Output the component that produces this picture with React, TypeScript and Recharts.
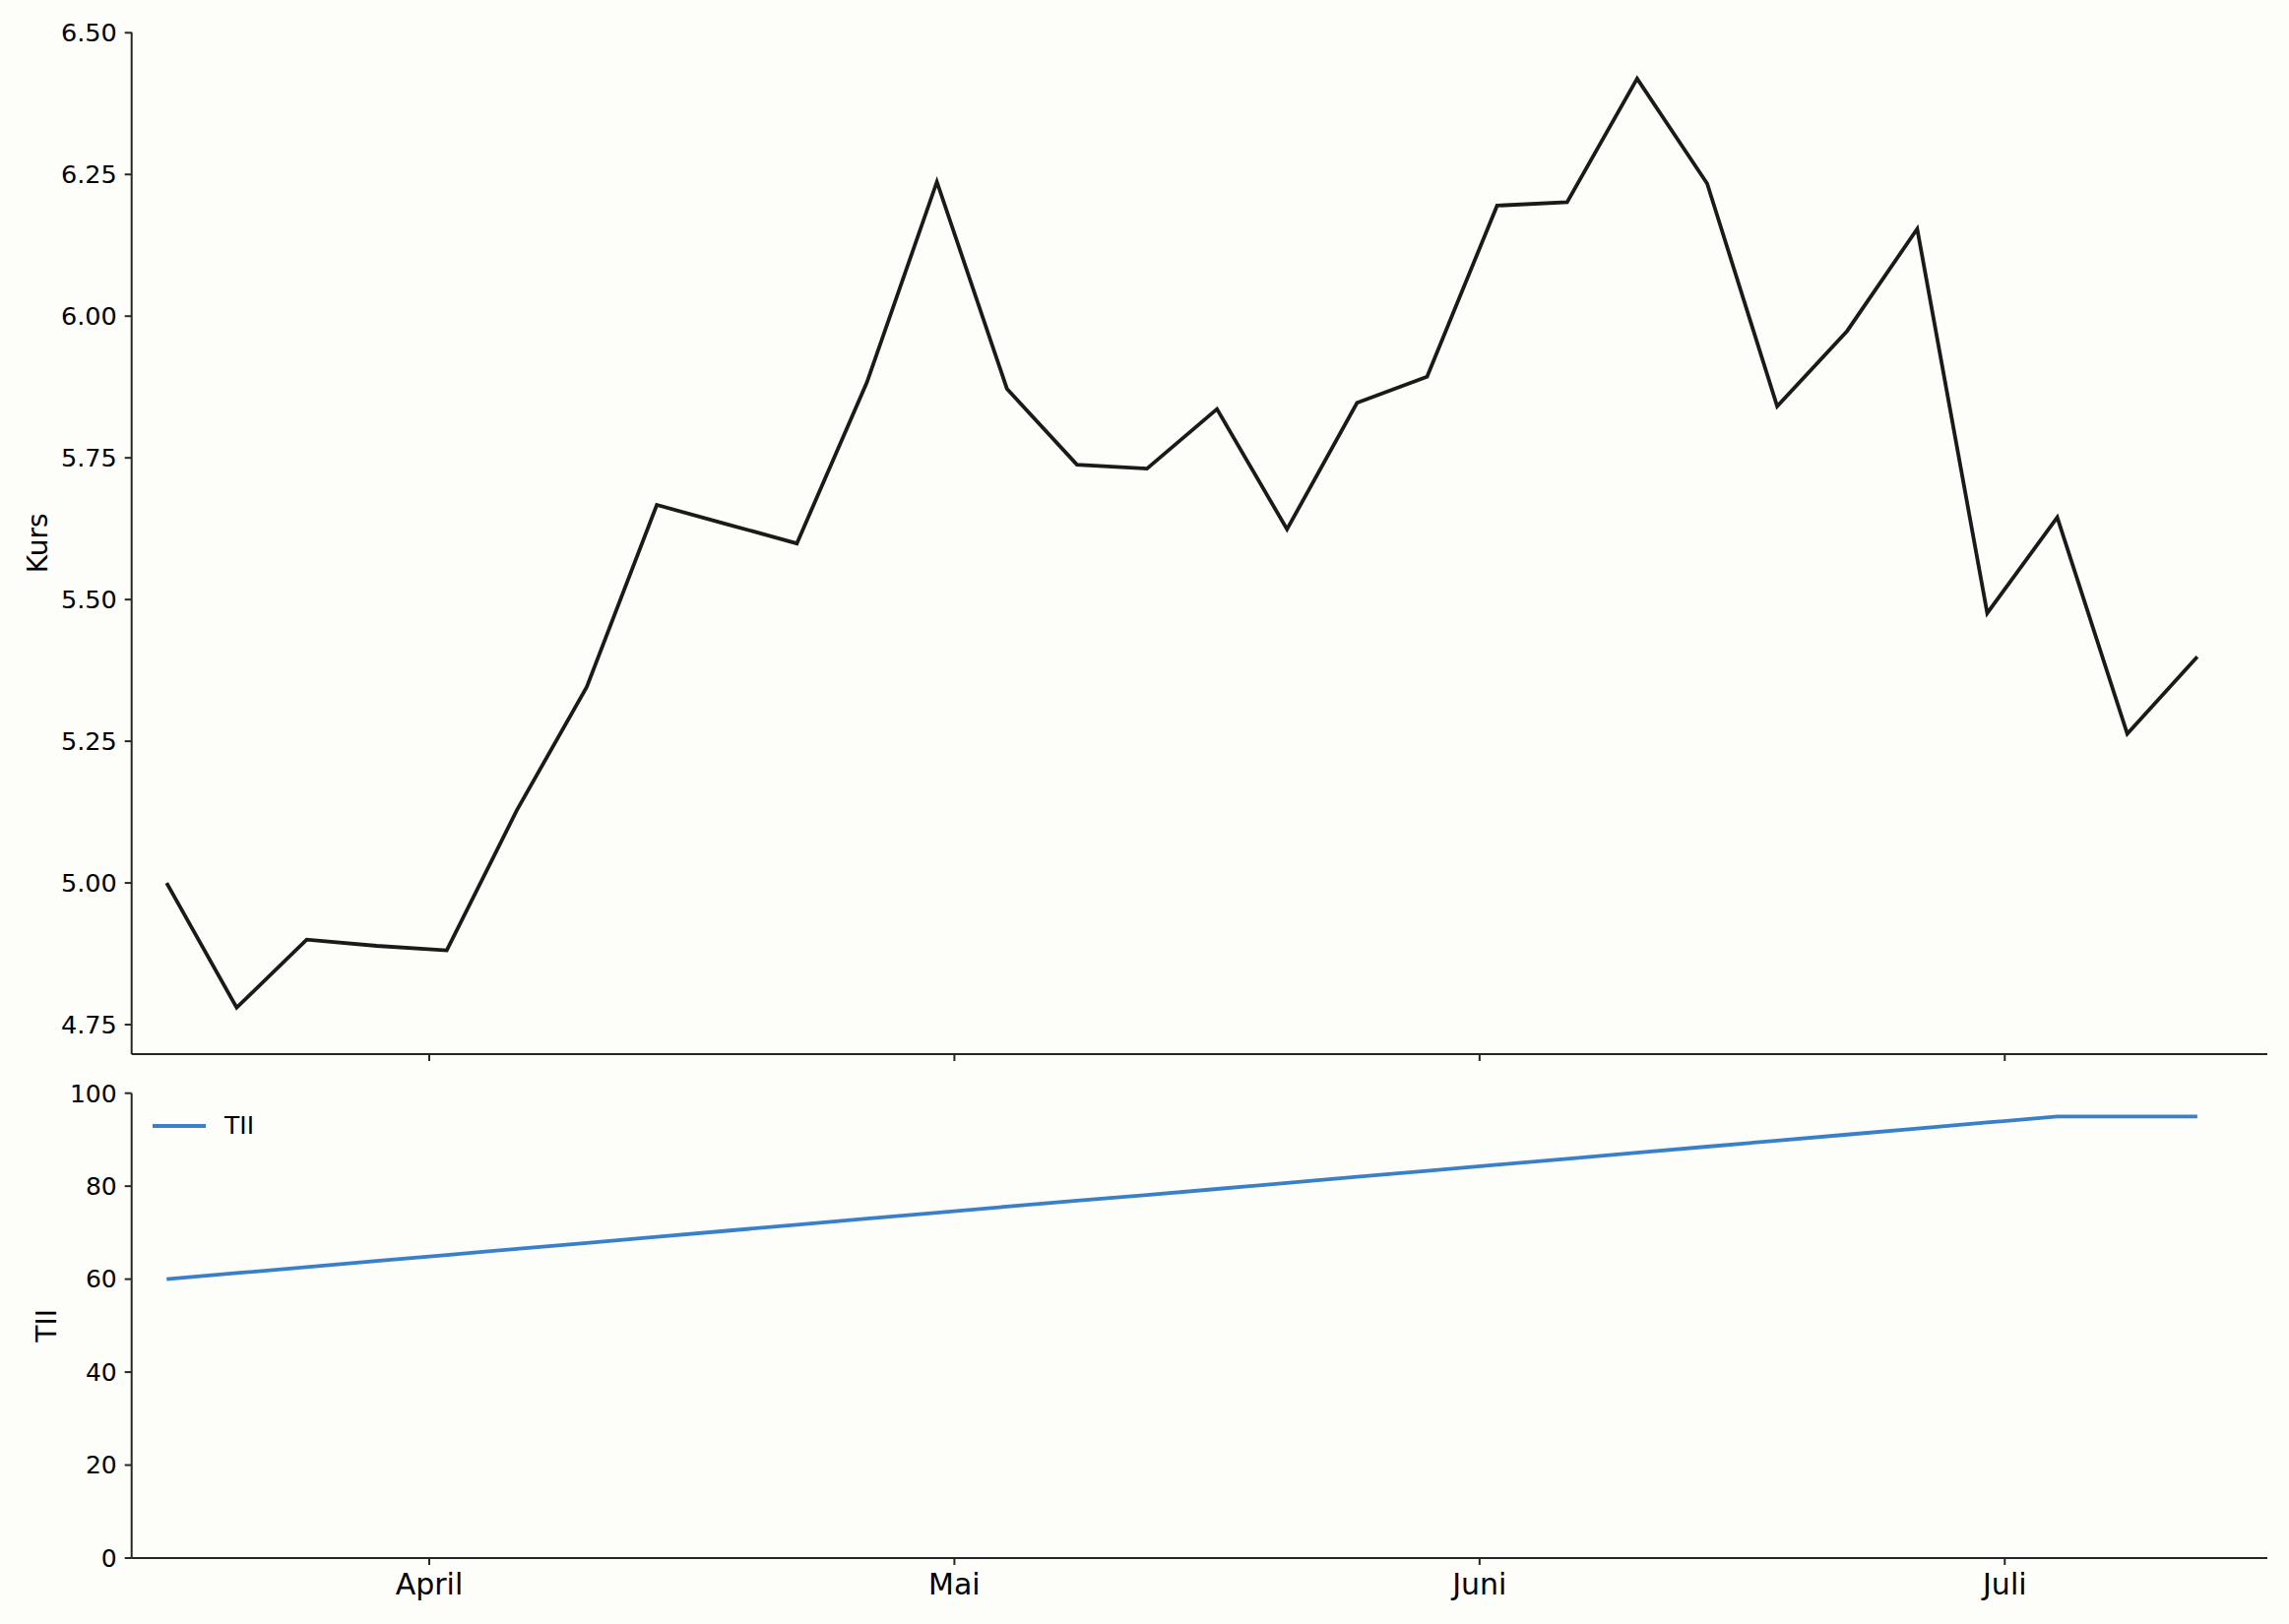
import { FC } from "react";
import { LineChart, Line, XAxis, YAxis, Legend, Label } from "recharts";

// x positions in days since the first observation (one point every 4 days)
const dayOffsets = [
  0, 4, 8, 12, 16, 20, 24, 28, 32, 36, 40, 44, 48, 52, 56, 60, 64, 68, 72, 76,
  80, 84, 88, 92, 96, 100, 104, 108, 112, 116,
];

const kursValues = [
  5.0, 4.78, 4.9, 4.889, 4.881, 5.128, 5.346, 5.667, 5.633, 5.599, 5.883,
  6.237, 5.872, 5.738, 5.731, 5.836, 5.624, 5.847, 5.893, 6.195, 6.201, 6.419,
  6.234, 5.841, 5.974, 6.154, 5.476, 5.645, 5.263, 5.399,
];

const tiiValues = [
  60, 61.3, 62.6, 63.9, 65.2, 66.5, 67.8, 69.1, 70.4, 71.7, 73.0, 74.3, 75.6,
  76.9, 78.1, 79.4, 80.7, 82.0, 83.3, 84.6, 85.9, 87.2, 88.5, 89.8, 91.1, 92.4,
  93.7, 95, 95, 95,
];

const monthTicks = [15, 45, 75, 105];
const monthLabels = ["April", "Mai", "Juni", "Juli"];
const kursTicks = [4.75, 5.0, 5.25, 5.5, 5.75, 6.0, 6.25, 6.5];
const tiiTicks = [0, 20, 40, 60, 80, 100];

const data = dayOffsets.map((day, i) => ({
  day,
  kurs: kursValues[i],
  tii: tiiValues[i],
}));

const FONT = "'DejaVu Sans', sans-serif";
const AXIS = "#262626";
const KURS_COLOR = "#1a1a1a";
const TII_COLOR = "#3a80c8";
const X_DOMAIN: [number, number] = [-2, 120];

const monthLabel = (v: number) => {
  const idx = monthTicks.indexOf(v);
  return idx >= 0 ? monthLabels[idx] : "";
};

const axisLabel =
  (text: string, baselineX: number) =>
  (props: any) => {
    const vb = props.viewBox || {};
    const cy = (vb.y ?? 0) + (vb.height ?? 0) / 2;
    return (
      <text
        x={baselineX}
        y={cy}
        transform={`rotate(-90, ${baselineX}, ${cy})`}
        textAnchor="middle"
        fontSize={28}
        fontFamily={FONT}
        fill="#000"
      >
        {text}
      </text>
    );
  };

const LegendContent = (props: any) => {
  const item = props.payload?.[0];
  if (!item) return null;
  return (
    <div style={{ display: "flex", alignItems: "center", height: 30 }}>
      <svg width={54} height={30}>
        <line x1={0} y1={15} x2={54} y2={15} stroke={item.color} strokeWidth={4} />
      </svg>
      <span
        style={{
          marginLeft: 19,
          fontSize: 25,
          lineHeight: "30px",
          fontFamily: FONT,
          color: "#000",
        }}
      >
        {item.value}
      </span>
    </div>
  );
};

const App: FC = () => {
  return (
    <div
      style={{
        position: "absolute",
        left: 0,
        top: 0,
        width: 2325,
        height: 1650,
        background: "#fdfdf9",
        fontFamily: FONT,
        overflow: "hidden",
      }}
    >
      <div style={{ position: "absolute", left: 0, top: 0 }}>
        <LineChart
          width={2325}
          height={1080}
          data={data}
          margin={{ top: 32.7, right: 22, left: 0, bottom: 0 }}
        >
          <XAxis
            dataKey="day"
            type="number"
            domain={X_DOMAIN}
            ticks={monthTicks}
            tickFormatter={() => ""}
            height={9}
            tickSize={7}
            axisLine={{ stroke: AXIS, strokeWidth: 2 }}
            tickLine={{ stroke: AXIS, strokeWidth: 2 }}
            allowDataOverflow
          />
          <YAxis
            width={133.7}
            type="number"
            domain={[4.698, 6.501]}
            ticks={kursTicks}
            allowDataOverflow
            tickFormatter={(v: number) => v.toFixed(2)}
            tick={{ fill: "#000", fontSize: 25.5, fontFamily: FONT }}
            tickSize={7}
            tickMargin={8}
            axisLine={{ stroke: AXIS, strokeWidth: 2 }}
            tickLine={{ stroke: AXIS, strokeWidth: 2 }}
          >
            <Label content={axisLabel("Kurs", 48)} />
          </YAxis>
          <Line
            type="linear"
            dataKey="kurs"
            name="Kurs"
            stroke={KURS_COLOR}
            strokeWidth={3.8}
            dot={false}
            activeDot={false}
            isAnimationActive={false}
          />
        </LineChart>
      </div>

      <div style={{ position: "absolute", left: 0, top: 1080 }}>
        <LineChart
          width={2325}
          height={570}
          data={data}
          margin={{ top: 30.7, right: 22, left: 0, bottom: 0 }}
        >
          <XAxis
            dataKey="day"
            type="number"
            domain={X_DOMAIN}
            ticks={monthTicks}
            tickFormatter={monthLabel}
            height={67}
            tickSize={7}
            tickMargin={9}
            tick={{ fill: "#000", fontSize: 30, fontFamily: FONT }}
            axisLine={{ stroke: AXIS, strokeWidth: 2 }}
            tickLine={{ stroke: AXIS, strokeWidth: 2 }}
            allowDataOverflow
          />
          <YAxis
            width={133.7}
            type="number"
            domain={[0, 100]}
            ticks={tiiTicks}
            tick={{ fill: "#000", fontSize: 25, fontFamily: FONT }}
            tickSize={7}
            tickMargin={8}
            axisLine={{ stroke: AXIS, strokeWidth: 2 }}
            tickLine={{ stroke: AXIS, strokeWidth: 2 }}
          >
            <Label content={axisLabel("TII", 57)} />
          </YAxis>
          <Legend
            layout="vertical"
            align="center"
            verticalAlign="middle"
            wrapperStyle={{ position: "absolute", left: 155, top: 49, width: "auto" }}
            content={LegendContent}
          />
          <Line
            type="linear"
            dataKey="tii"
            name="TII"
            stroke={TII_COLOR}
            strokeWidth={3.8}
            dot={false}
            activeDot={false}
            isAnimationActive={false}
          />
        </LineChart>
      </div>
    </div>
  );
};

export default App;
